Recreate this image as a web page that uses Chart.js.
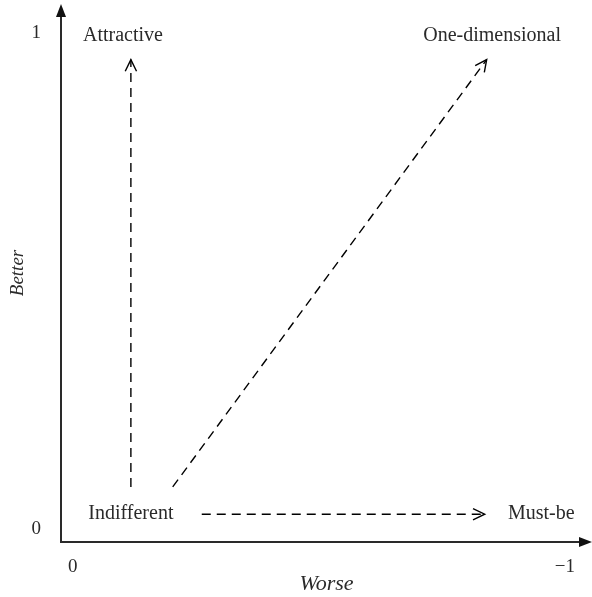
<!DOCTYPE html>
<html>
<head>
<meta charset="utf-8">
<script src="https://cdn.jsdelivr.net/npm/chart.js@4/dist/chart.umd.min.js"></script>
<style>
  html, body { margin: 0; padding: 0; background: #fff; }
  #wrap { width: 592px; height: 597px; position: relative; }
</style>
</head>
<body>
<div id="wrap"><canvas id="kano"></canvas></div>
<script>
// Kano diagram data (x = Worse, 0 .. -1; y = Better, 0 .. 1)
const xTicks = [0, -1];
const xTickLabels = ['0', '\u22121'];
const yTicks = [0, 1];
const yTickLabels = ['0', '1'];

// dashed arrows: start and end point of each
const attractiveArrow = [{ x: -0.118, y: 0.085 }, { x: -0.118, y: 0.946 }];
const oneDimArrow = [{ x: -0.203, y: 0.085 }, { x: -0.841, y: 0.946 }];
const mustBeArrow = [{ x: -0.262, y: 0.030 }, { x: -0.837, y: 0.030 }];

// category labels and where they sit
const categoryNames = ['Attractive', 'One-dimensional', 'Indifferent', 'Must-be'];
const categoryX = [-0.102, -0.852, -0.118, -0.952];
const categoryY = [0.995, 0.995, 0.030, 0.030];

const serif = "'Liberation Serif', 'DejaVu Serif', serif";
const ink = '#2a2a2a';

function dashedArrow(points) {
  return {
    data: points,
    showLine: true,
    borderColor: '#000',
    borderWidth: 1.4,
    borderDash: [9, 6],
    pointRadius: 0,
    fill: false
  };
}

// draws the axis lines with their arrow heads, the open arrow heads
// of the dashed arrows and the category labels
const kanoPlugin = {
  id: 'kano',
  afterDatasetsDraw(chart) {
    const ctx = chart.ctx;
    const area = chart.chartArea;
    const xs = chart.scales.x, ys = chart.scales.y;
    ctx.save();

    // axes
    ctx.strokeStyle = ink;
    ctx.fillStyle = '#111';
    ctx.lineWidth = 2;
    ctx.beginPath();
    ctx.moveTo(area.left, area.top + 10);
    ctx.lineTo(area.left, area.bottom);
    ctx.lineTo(area.right - 10, area.bottom);
    ctx.stroke();
    ctx.beginPath();
    ctx.moveTo(area.left, area.top);
    ctx.lineTo(area.left - 5, area.top + 13);
    ctx.lineTo(area.left + 5, area.top + 13);
    ctx.closePath();
    ctx.fill();
    ctx.beginPath();
    ctx.moveTo(area.right, area.bottom);
    ctx.lineTo(area.right - 13, area.bottom - 5);
    ctx.lineTo(area.right - 13, area.bottom + 5);
    ctx.closePath();
    ctx.fill();

    // open arrow heads at the end of each dashed line
    ctx.strokeStyle = '#000';
    ctx.lineWidth = 1.4;
    ctx.setLineDash([]);
    chart.data.datasets.forEach(function (ds, i) {
      const pts = chart.getDatasetMeta(i).data;
      const a = pts[pts.length - 2], b = pts[pts.length - 1];
      const ang = Math.atan2(b.y - a.y, b.x - a.x);
      const len = 13, spread = 0.45;
      ctx.beginPath();
      ctx.moveTo(b.x - len * Math.cos(ang - spread), b.y - len * Math.sin(ang - spread));
      ctx.lineTo(b.x, b.y);
      ctx.lineTo(b.x - len * Math.cos(ang + spread), b.y - len * Math.sin(ang + spread));
      ctx.stroke();
    });

    // category labels
    ctx.fillStyle = ink;
    ctx.font = '20px ' + serif;
    ctx.textAlign = 'center';
    ctx.textBaseline = 'middle';
    categoryNames.forEach(function (name, i) {
      ctx.fillText(name, xs.getPixelForValue(categoryX[i]), ys.getPixelForValue(categoryY[i]));
    });
    ctx.restore();
  }
};

new Chart(document.getElementById('kano'), {
  type: 'scatter',
  data: {
    datasets: [
      dashedArrow(attractiveArrow),
      dashedArrow(oneDimArrow),
      dashedArrow(mustBeArrow)
    ]
  },
  options: {
    responsive: true,
    maintainAspectRatio: false,
    animation: false,
    layout: { padding: { top: 4, right: 0, left: 0, bottom: 0 } },
    plugins: {
      legend: { display: false },
      tooltip: { enabled: false }
    },
    scales: {
      x: {
        type: 'linear',
        reverse: true,
        min: -1.055,
        max: 0.024,
        grid: { display: false },
        border: { display: false },
        afterBuildTicks: function (scale) {
          scale.ticks = xTicks.map(function (v) { return { value: v }; });
        },
        afterFit: function (scale) {
          scale.height = 55;
          scale.paddingLeft = 0;
          scale.paddingRight = 0;
        },
        ticks: {
          padding: 6,
          color: ink,
          font: { family: serif, size: 19 },
          maxRotation: 0,
          callback: function (value) { return xTickLabels[xTicks.indexOf(value)]; }
        },
        title: {
          display: true,
          text: 'Worse',
          color: ink,
          padding: { top: 0, bottom: 0 },
          font: { family: serif, size: 22, style: 'italic' }
        }
      },
      y: {
        type: 'linear',
        min: -0.026,
        max: 1.058,
        grid: { display: false },
        border: { display: false },
        afterBuildTicks: function (scale) {
          scale.ticks = yTicks.map(function (v) { return { value: v }; });
        },
        afterFit: function (scale) {
          scale.width = 61;
          scale.paddingTop = 0;
          scale.paddingBottom = 0;
        },
        ticks: {
          padding: 12,
          color: ink,
          font: { family: serif, size: 19 },
          callback: function (value) { return yTickLabels[yTicks.indexOf(value)]; }
        },
        title: {
          display: true,
          text: 'Better',
          color: ink,
          padding: { top: 7, bottom: 0 },
          font: { family: serif, size: 19, style: 'italic' }
        }
      }
    }
  },
  plugins: [kanoPlugin]
});
</script>
</body>
</html>
